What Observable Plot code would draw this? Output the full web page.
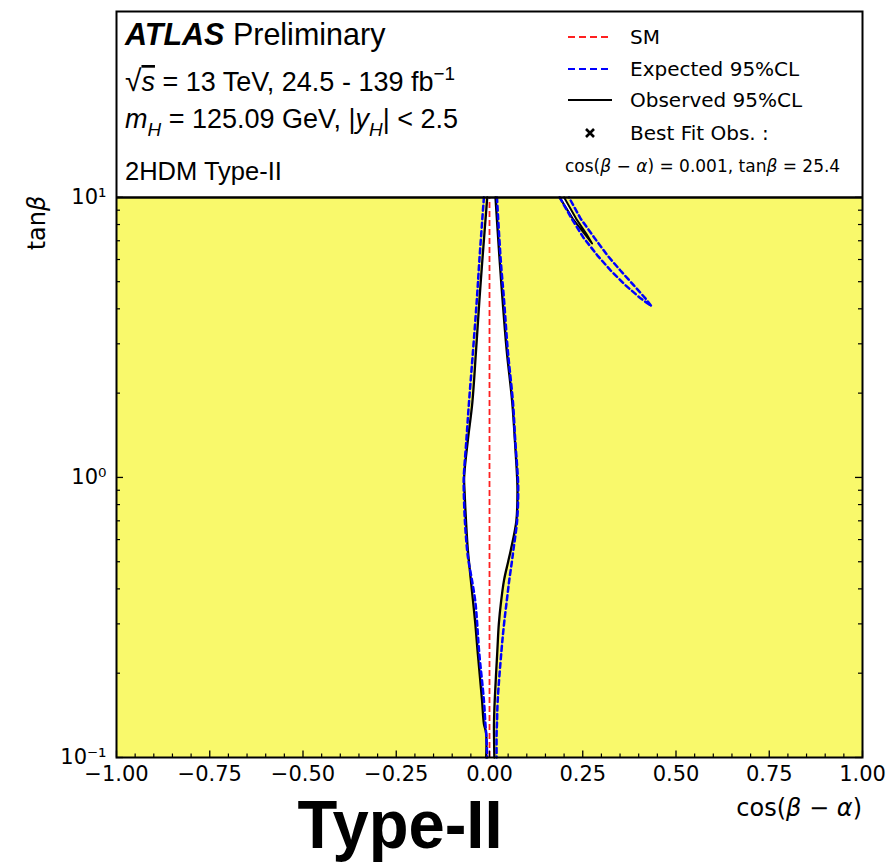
<!DOCTYPE html>
<html><head><meta charset="utf-8">
<script src="https://cdn.jsdelivr.net/npm/d3@7"></script>
<script src="https://cdn.jsdelivr.net/npm/@observablehq/plot@0.6"></script>
<style>body{margin:0;background:#fff;}</style>
</head><body><div id="chart"></div>
<script>
// ---- data (cos(beta-alpha), tan beta) ----
const tanGrid  = [10, 6, 4.3, 2.85, 1.85, 1.36, 1.0, 0.9, 0.7, 0.55, 0.5, 0.43, 0.36, 0.3, 0.24, 0.16, 0.132, 0.122, 0.1];
const obsLeft  = [-0.006, -0.019, -0.027, -0.036, -0.046, -0.058, -0.068, -0.067, -0.063, -0.058, -0.055, -0.050, -0.044, -0.038, -0.032, -0.020, -0.015, -0.009, -0.009];
const obsRight = [0.016, 0.027, 0.035, 0.046, 0.061, 0.068, 0.074, 0.075, 0.072, 0.057, 0.050, 0.039, 0.031, 0.025, 0.021, 0.014, 0.012, 0.012, 0.013];
const expLeft  = [-0.015, -0.027, -0.034, -0.044, -0.055, -0.062, -0.069, -0.069, -0.066, -0.060, -0.056, -0.047, -0.038, -0.033, -0.028, -0.015, -0.011, -0.009, -0.006];
const expRight = [0.020, 0.030, 0.039, 0.049, 0.063, 0.069, 0.076, 0.077, 0.074, 0.064, 0.060, 0.053, 0.046, 0.039, 0.032, 0.022, 0.020, 0.019, 0.019];

const tanSlObs   = [10, 8.4, 7.4, 6.85];
const slObsLeft  = [0.188, 0.223, 0.255, 0.275];
const slObsRight = [0.200, 0.232, 0.260, 0.275];

const tanSlExp   = [10, 8.41, 7.21, 6.21, 5.48, 4.85, 4.36, 4.09];
const slExpInner = [0.188, 0.220, 0.251, 0.289, 0.325, 0.365, 0.405, 0.434];
const slExpOuter = [0.213, 0.244, 0.280, 0.316, 0.351, 0.387, 0.418, 0.434];

const smCos = [0];
const xTicks = [-1, -0.75, -0.5, -0.25, 0, 0.25, 0.5, 0.75, 1];
const xMinorTicks = [-0.95,-0.9,-0.85,-0.8,-0.7,-0.65,-0.6,-0.55,-0.45,-0.4,-0.35,-0.3,-0.2,-0.15,-0.1,-0.05,0.05,0.1,0.15,0.2,0.3,0.35,0.4,0.45,0.55,0.6,0.65,0.7,0.8,0.85,0.9,0.95];
const yTicks = [0.1, 1, 10];
const yMinorTicks = [0.2,0.3,0.4,0.5,0.6,0.7,0.8,0.9,2,3,4,5,6,7,8,9];
const yTickLabels = ["10⁻¹", "10⁰", "10¹"];

// ---- tables ----
const band = tanGrid.map((t, i) => ({t, ol: obsLeft[i], or: obsRight[i], el: expLeft[i], er: expRight[i]}));
const slObs = tanSlObs.map((t, i) => ({t, l: slObsLeft[i], r: slObsRight[i]}));
const slObsPath = [...slObs.map(d => ({t: d.t, x: d.l})), ...slObs.slice().reverse().map(d => ({t: d.t, x: d.r}))];
const slExpPath = [...tanSlExp.map((t, i) => ({t, x: slExpInner[i]})), ...tanSlExp.map((t, i) => ({t, x: slExpOuter[i]})).reverse()];

const W = 888, H = 865, mL = 116, mR = 26, mT = 11, mB = 108;
const fw = W - mL - mR, fh = H - mT - mB;
const YELLOW = "#f9f96b";
const C = "catmull-rom";
const DASH = "5,3.5";

const plot = Plot.plot({
  width: W, height: H, marginLeft: mL, marginRight: mR, marginTop: mT, marginBottom: mB,
  x: {domain: [-1, 1], label: null},
  y: {type: "log", domain: [0.1, 46.1], label: null},
  style: {fontFamily: "DejaVu Sans", fontSize: "21px", color: "black", background: "white", overflow: "visible"},
  marks: [
    Plot.rect([{x1: -1, x2: 1, y1: 0.1, y2: 10}], {x1: "x1", x2: "x2", y1: "y1", y2: "y2", fill: YELLOW}),
    Plot.areaX(band, {y: "t", x1: "ol", x2: "or", fill: "white", curve: C}),
    Plot.areaX(slObs, {y: "t", x1: "l", x2: "r", fill: "white"}),
    Plot.line(band, {x: "ol", y: "t", stroke: "black", strokeWidth: 2.3, curve: C}),
    Plot.line(band, {x: "or", y: "t", stroke: "black", strokeWidth: 2.3, curve: C}),
    Plot.line(slObsPath, {x: "x", y: "t", stroke: "black", strokeWidth: 2}),
    Plot.line(band, {x: "el", y: "t", stroke: "#0000ff", strokeWidth: 2.5, strokeDasharray: DASH, curve: C}),
    Plot.line(band, {x: "er", y: "t", stroke: "#0000ff", strokeWidth: 2.5, strokeDasharray: DASH, curve: C}),
    Plot.line(slExpPath, {x: "x", y: "t", stroke: "#0000ff", strokeWidth: 2.5, strokeDasharray: DASH}),
    Plot.ruleX(smCos, {y1: 0.1, y2: 10, stroke: "#ff2020", strokeWidth: 1.8, strokeDasharray: "6,3"}),
    Plot.ruleY([10], {stroke: "black", strokeWidth: 2.5}),
    Plot.tickX(xMinorTicks, {x: d => d, insetTop: fh - 3.5, strokeWidth: 1.2}),
    Plot.tickX(xTicks, {x: d => d, insetTop: fh - 6.5, strokeWidth: 1.3}),
    Plot.tickY(yMinorTicks, {y: d => d, insetRight: fw - 4, strokeWidth: 1.2}),
    Plot.tickY(yTicks, {y: d => d, insetRight: fw - 7, strokeWidth: 1.3}),
    Plot.tickY(yMinorTicks, {y: d => d, insetLeft: fw - 4, strokeWidth: 1.2}),
    Plot.tickY(yTicks, {y: d => d, insetLeft: fw - 7, strokeWidth: 1.3}),
    Plot.frame({stroke: "black", strokeWidth: 2}),
    Plot.axisX({ticks: xTicks, tickSize: 0, tickPadding: 9, label: null,
      tickFormat: d => (d < 0 ? "\u2212" : "") + Math.abs(d).toFixed(2)}),
    Plot.axisY({ticks: yTicks, tickSize: 0, tickPadding: 10, label: null,
      tickFormat: d => yTickLabels[yTicks.indexOf(d)]})
  ]
});
document.getElementById("chart").appendChild(plot);

// ---- annotations ----
const svg = d3.select(plot);
const ann = svg.append("g").attr("text-anchor", "start");
function rich(x, y, size, family, parts, extra = {}) {
  const t = ann.append("text").attr("x", x).attr("y", y).attr("font-size", size)
    .attr("font-family", family).attr("fill", "black").attr("text-anchor", "start");
  for (const k in extra) t.attr(k, extra[k]);
  let shift = 0;
  for (const p of parts) {
    const s = t.append("tspan").text(p.t);
    if (p.i) s.attr("font-style", "italic");
    if (p.b) s.attr("font-weight", "bold");
    if (p.o) s.attr("text-decoration", "overline");
    if (p.fs) s.attr("font-size", p.fs);
    let target = p.sub ? size * 0.28 : p.sup ? -size * 0.4 : 0;
    if (p.sub || p.sup) s.attr("font-size", size * 0.7);
    if (target !== shift) { s.attr("dy", target - shift); shift = target; }
  }
  return t;
}
const HEL = "Liberation Sans, Arial, Helvetica, sans-serif";
const DV = "DejaVu Sans, sans-serif";
rich(125, 45, 30.5, HEL, [{t: "ATLAS", b: true, i: true}, {t: " Preliminary"}]);
rich(125, 91, 27, HEL, [{t: "\u221A", fs: 30}, {t: "s", i: true, o: true}, {t: " = 13 TeV, 24.5 - 139 fb"}, {t: "\u22121", sup: true}]);
rich(125, 128, 27, HEL, [{t: "m", i: true}, {t: "H", i: true, sub: true}, {t: " = 125.09 GeV, |"}, {t: "y", i: true}, {t: "H", i: true, sub: true}, {t: "| < 2.5"}]);
rich(125, 180, 25.5, HEL, [{t: "2HDM Type-II"}]);

// legend
const legY = [37, 69, 100, 133];
ann.append("line").attr("x1", 568).attr("x2", 612).attr("y1", legY[0]).attr("y2", legY[0])
  .attr("stroke", "#ff2020").attr("stroke-width", 2).attr("stroke-dasharray", "7,4");
ann.append("line").attr("x1", 568).attr("x2", 612).attr("y1", legY[1]).attr("y2", legY[1])
  .attr("stroke", "#0000ff").attr("stroke-width", 2).attr("stroke-dasharray", "7,4");
ann.append("line").attr("x1", 568).attr("x2", 612).attr("y1", legY[2]).attr("y2", legY[2])
  .attr("stroke", "black").attr("stroke-width", 2);
ann.append("path").attr("d", `M586,${legY[3]-4}L594,${legY[3]+4}M594,${legY[3]-4}L586,${legY[3]+4}`)
  .attr("stroke", "black").attr("stroke-width", 2.6);
const legText = ["SM", "Expected 95%CL", "Observed 95%CL", "Best Fit Obs. :"];
legText.forEach((s, i) => rich(630, legY[i] + 7.3, 20, DV, [{t: s}]));
rich(565, 172, 17, DV, [{t: "cos("}, {t: "\u03B2", i: true}, {t: " \u2212 "}, {t: "\u03B1", i: true},
  {t: ") = 0.001, tan"}, {t: "\u03B2", i: true}, {t: " = 25.4"}]);

// axis labels
rich(0, 0, 24, DV, [{t: "tan"}, {t: "\u03B2", i: true}],
  {"text-anchor": "middle", transform: "translate(45,223) rotate(-90)"});
rich(862, 816, 24, DV, [{t: "cos("}, {t: "\u03B2", i: true}, {t: " \u2212 "}, {t: "\u03B1", i: true}, {t: ")"}],
  {"text-anchor": "end"});
rich(400, 848, 68, HEL, [{t: "Type-II", b: true}],
  {"text-anchor": "middle", textLength: 205, lengthAdjust: "spacingAndGlyphs"});
</script></body></html>
